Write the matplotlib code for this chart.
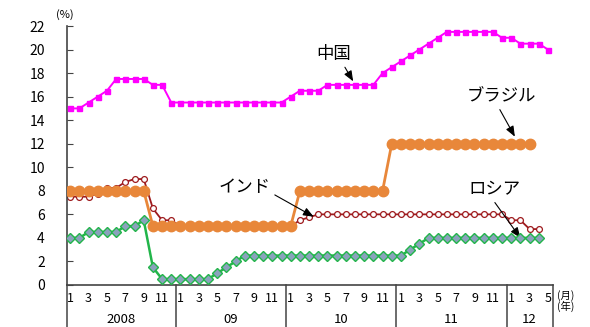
import matplotlib
matplotlib.use("Agg")
from matplotlib import pyplot as plt

plt.rcParams['font.family'] = ['Noto Sans CJK JP', 'DejaVu Sans']

# reserve ratio by month, Jan 2008 - May 2012 (%)
china = [15, 15, 15.5, 16, 16.5, 17.5, 17.5, 17.5, 17.5, 17, 17, 15.5,
         15.5, 15.5, 15.5, 15.5, 15.5, 15.5, 15.5, 15.5, 15.5, 15.5, 15.5, 15.5,
         16, 16.5, 16.5, 16.5, 17, 17, 17, 17, 17, 17, 18, 18.5,
         19, 19.5, 20, 20.5, 21, 21.5, 21.5, 21.5, 21.5, 21.5, 21.5, 21,
         21, 20.5, 20.5, 20.5, 20]
brazil = [8, 8, 8, 8, 8, 8, 8, 8, 8, 5, 5, 5,
          5, 5, 5, 5, 5, 5, 5, 5, 5, 5, 5, 5,
          5, 8, 8, 8, 8, 8, 8, 8, 8, 8, 8, 12,
          12, 12, 12, 12, 12, 12, 12, 12, 12, 12, 12, 12,
          12, 12, 12]
india = [7.5, 7.5, 7.5, 7.75, 8.25, 8.25, 8.75, 9, 9, 6.5, 5.5, 5.5,
         5, 5, 5, 5, 5, 5, 5, 5, 5, 5, 5, 5,
         5, 5.5, 5.75, 6, 6, 6, 6, 6, 6, 6, 6, 6,
         6, 6, 6, 6, 6, 6, 6, 6, 6, 6, 6, 6,
         5.5, 5.5, 4.75, 4.75]
russia = [4, 4, 4.5, 4.5, 4.5, 4.5, 5, 5, 5.5, 1.5, 0.5, 0.5,
          0.5, 0.5, 0.5, 0.5, 1, 1.5, 2, 2.5, 2.5, 2.5, 2.5, 2.5,
          2.5, 2.5, 2.5, 2.5, 2.5, 2.5, 2.5, 2.5, 2.5, 2.5, 2.5, 2.5,
          2.5, 3, 3.5, 4, 4, 4, 4, 4, 4, 4, 4, 4,
          4, 4, 4, 4]

month_ticks = [0, 2, 4, 6, 8, 10, 12, 14, 16, 18, 20, 22, 24, 26, 28, 30, 32, 34,
               36, 38, 40, 42, 44, 46, 48, 50, 52]
month_labels = ["1", "3", "5", "7", "9", "11"] * 4 + ["1", "3", "5"]
year_labels = ["2008", "09", "10", "11", "12"]
year_centers = [5.5, 17.5, 29.5, 41.5, 50]
year_edges = [-0.35, 11.5, 23.5, 35.5, 47.5, 52.55]

fig = plt.figure(figsize=(5.9, 3.27), dpi=100)
ax = fig.add_axes([67 / 590, 42 / 327, 486 / 590, 259 / 327])

ax.plot(range(len(india)), india, color="#9E1B1E", lw=1.3, marker="o", ms=4.2,
        mfc="white", mec="#9E1B1E", mew=0.9, zorder=2)
ax.plot(range(len(brazil)), brazil, color="#E8873A", lw=2, marker="o", ms=7.5,
        mec="#E8873A", zorder=3)
ax.plot(range(len(russia)), russia, color="#22B54A", lw=1.8, marker="D", ms=5.2,
        mfc="#8AA2BC", mec="#22B54A", mew=1, zorder=4)
ax.plot(range(len(china)), china, color="#FF00FF", lw=1.4, marker="s", ms=3.6,
        zorder=3)

ax.set_xlim(year_edges[0], year_edges[-1])
ax.set_ylim(0, 22)
ax.set_yticks(range(0, 23, 2))
ax.set_xticks(month_ticks)
ax.set_xticklabels(month_labels, fontsize=9)
ax.tick_params(axis="x", length=0, pad=5)
ax.tick_params(axis="y", direction="in", length=4, width=0.8, pad=16,
               labelsize=10, color="#444444")
for s in ["top", "right"]:
    ax.spines[s].set_visible(False)
for s in ["left", "bottom"]:
    ax.spines[s].set_color("#444444")
    ax.spines[s].set_linewidth(1.2)

# year table under the axis
tr = ax.get_xaxis_transform()
for e in year_edges:
    ax.plot([e, e], [0, -0.2], color="#444444", lw=1.1, transform=tr,
            clip_on=False)
for c, t in zip(year_centers, year_labels):
    ax.text(c, -0.135, t, transform=tr, ha="center", va="center", fontsize=9.5)

fig.text(65 / 590, 1 - 15 / 327, "(%)", ha="center", va="center", fontsize=8)
fig.text(566 / 590, 1 - 296 / 327, "(月)", ha="center", va="center", fontsize=7.5)
fig.text(566 / 590, 1 - 306 / 327, "(年)", ha="center", va="center", fontsize=7.5)

arrow = dict(arrowstyle="-|>,head_length=0.5,head_width=0.2", color="black",
             lw=0.8, shrinkA=1, shrinkB=0)
ax.annotate("中国", xy=(30.8, 17.3), xytext=(28.7, 19.6), fontsize=12.5,
            ha="center", va="center", arrowprops=dict(arrow, relpos=(0.75, 0)))
ax.annotate("ブラジル", xy=(48.4, 12.6), xytext=(46.9, 16.0), fontsize=12.5,
            ha="center", va="center", arrowprops=dict(arrow, relpos=(0.45, 0)))
ax.annotate("インド", xy=(26.5, 5.8), xytext=(19.0, 8.3), fontsize=12.5,
            ha="center", va="center", arrowprops=dict(arrow, relpos=(1, 0.2)))
ax.annotate("ロシア", xy=(49.0, 4.0), xytext=(46.2, 8.1), fontsize=12.5,
            ha="center", va="center", arrowprops=dict(arrow, relpos=(0.45, 0)))

fig.savefig("out.png", dpi=100)
